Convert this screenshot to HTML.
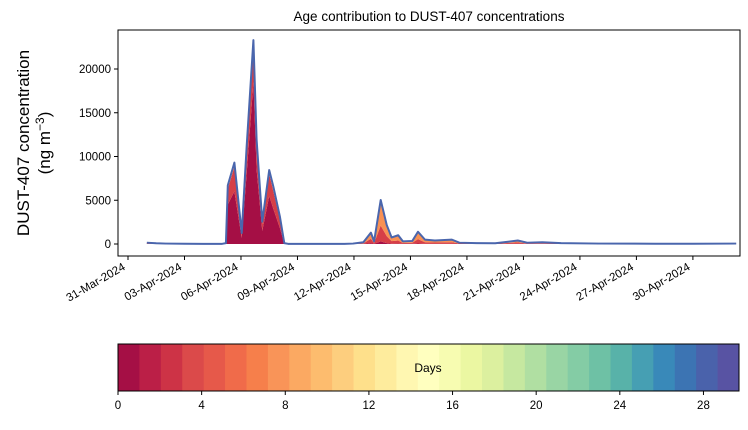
<!DOCTYPE html>
<html><head><meta charset="utf-8"><style>
body{margin:0;background:#fff;}
text{font-family:"Liberation Sans","DejaVu Sans",sans-serif;fill:#000;}
</style></head><body>
<svg id="chart" width="748" height="425" xmlns="http://www.w3.org/2000/svg"></svg>
<script>
// data: days since 31-Mar-2024
const times=[1.0,1.5,2,3,4,5,5.2,5.3,5.65,6.04,6.3,6.66,6.83,7.13,7.5,7.72,8.07,8.3,8.5,11.5,11.95,12.5,12.9,13.07,13.42,13.74,14.0,14.35,14.6,15.1,15.4,15.77,16.3,17.2,17.6,18.5,19.5,20.7,21.2,22,23,25,28,30,32.3];
const ageYoung=[20,10,5,5,5,5,60,4500,6000,700,8000,18500,8500,1500,5500,4000,1800,50,5,5,5,10,100,20,300,100,30,50,10,20,60,20,20,20,5,5,5,30,10,10,5,5,5,5,5];
const ageMid=[50,30,20,10,5,5,30,1800,2800,450,2600,4200,2800,800,2500,2000,1000,40,10,5,15,60,500,100,1800,800,300,350,100,120,500,180,150,180,50,40,30,150,50,70,35,15,10,10,15];
const ageOld=[80,40,25,15,10,10,10,400,500,100,500,600,600,250,450,550,300,10,5,10,30,130,700,180,2930,1270,420,600,190,210,840,300,230,300,95,55,45,220,90,120,60,30,15,15,30];
const yTicks=[0,5000,10000,15000,20000];
const xTickDays=[0,3,6,9,12,15,18,21,24,27,30];
const xTickLabels=["31-Mar-2024","03-Apr-2024","06-Apr-2024","09-Apr-2024","12-Apr-2024","15-Apr-2024","18-Apr-2024","21-Apr-2024","24-Apr-2024","27-Apr-2024","30-Apr-2024"];
const cbarColors=["#a50f45","#bb1f47","#cd3346","#db4a4a","#e6594a","#f06b4a","#f67f4b","#f99458","#fba962","#fdbc6e","#fdce7e","#fee08b","#feec9d","#fff7b1","#ffffbf","#f7fcb1","#ebf7a2","#dcf09f","#c6e8a0","#b0dfa2","#99d5a4","#84cca5","#6ec1a5","#58b2a9","#469fb3","#3989b9","#3c74b3","#4a62ab","#5853a3"];
const cbarTicks=[0,4,8,12,16,20,24,28];

const NS="http://www.w3.org/2000/svg";
const svg=document.getElementById('chart');
function el(tag,attrs,parent){const e=document.createElementNS(NS,tag);for(const k in attrs)e.setAttribute(k,attrs[k]);(parent||svg).appendChild(e);return e;}
const L=118,R=740,T=30,B=256;
const xS=d=>128+d*18.83;
const yS=v=>244-v*43.75/5000;

const title=el('text',{x:429,y:21,'text-anchor':'middle','font-size':13.5});
title.textContent='Age contribution to DUST-407 concentrations';



// stacked areas
const layers=[ageYoung,ageMid,ageOld];
const layerColors=["#a50f45","#d63f47","#f99153"];
const layerNames=["area-age-young","area-age-mid","area-age-old"];
let base=times.map(()=>0);
layers.forEach((arr,li)=>{
  const top=arr.map((v,i)=>base[i]+v);
  let d='M'+times.map((t,i)=>xS(t)+','+yS(top[i])).join('L');
  for(let i=times.length-1;i>=0;i--)d+='L'+xS(times[i])+','+yS(base[i]);
  const p=el('path',{d:d+'Z',fill:layerColors[li],stroke:'none'});
  
  
  base=top;
});
const tl=el('path',{d:'M'+times.map((t,i)=>xS(t)+','+yS(base[i])).join('L'),fill:'none',stroke:'#4a66ad','stroke-width':2,'stroke-linejoin':'round'});



const frame=el('rect',{x:L,y:T,width:R-L,height:B-T,fill:'none',stroke:'#000','stroke-width':1});



yTicks.forEach(v=>{
  const y=yS(v);
  el('line',{x1:L-4,x2:L,y1:y,y2:y,stroke:'#000'});
  const t=el('text',{x:L-7,y:y+4,'text-anchor':'end','font-size':11.5});
  t.textContent=v;
  
  
});
xTickDays.forEach((d,i)=>{
  const x=xS(d);
  el('line',{x1:x,x2:x,y1:B,y2:B+4,stroke:'#000'});
  const t=el('text',{x:x-2,y:B+13,'text-anchor':'end','font-size':11.5,transform:`rotate(-30 ${x-2} ${B+13})`});
  t.textContent=xTickLabels[i];
  
  
});
const yt=el('text',{x:0,y:0,'text-anchor':'middle','font-size':17,transform:'translate(29,143) rotate(-90)'});


const s1=el('tspan',{x:0,dy:0},yt);s1.textContent='DUST-407 concentration';
const s2=el('tspan',{x:0,dy:21},yt);s2.textContent='(ng m';
const s3=el('tspan',{dy:-6,'font-size':12},yt);s3.textContent='−3';
const s4=el('tspan',{dy:6},yt);s4.textContent=')';

// colorbar
const cx0=118,cx1=739,cy0=344,cy1=391,cw=(cx1-cx0)/cbarColors.length;
cbarColors.forEach((c,i)=>{
  const r=el('rect',{x:cx0+i*cw,y:cy0,width:cw+0.5,height:cy1-cy0,fill:c});
  
  
});
const cf=el('rect',{x:cx0,y:cy0,width:cx1-cx0,height:cy1-cy0,fill:'none',stroke:'#000'});


cbarTicks.forEach(v=>{
  const x=cx0+v*(cx1-cx0)/29.7;
  el('line',{x1:x,x2:x,y1:cy1,y2:cy1+4,stroke:'#000'});
  const t=el('text',{x:x,y:cy1+18,'text-anchor':'middle','font-size':11.5});
  t.textContent=v;
  
  
});
const dl=el('text',{x:428,y:372,'text-anchor':'middle','font-size':12});
dl.textContent='Days';


</script>
</body></html>
